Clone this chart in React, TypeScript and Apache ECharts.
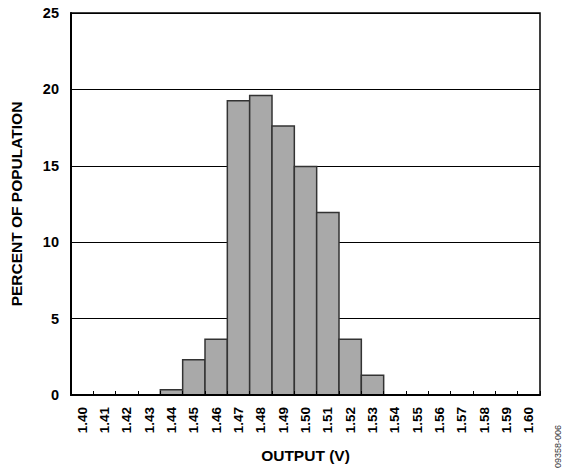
import React, { useEffect, useRef } from "react";
import * as echarts from "echarts";

const categories = [
  "1.40", "1.41", "1.42", "1.43", "1.44", "1.45", "1.46", "1.47", "1.48", "1.49", "1.50",
  "1.51", "1.52", "1.53", "1.54", "1.55", "1.56", "1.57", "1.58", "1.59", "1.60",
];
const percents = [
  0, 0, 0, 0, 0.35, 2.3, 3.65, 19.25, 19.6, 17.6, 14.95,
  11.95, 3.65, 1.3, 0, 0, 0, 0, 0, 0, 0,
];
const yTicks = { min: 0, max: 25, interval: 5 };
const xTitle = "OUTPUT (V)";
const yTitle = "PERCENT OF POPULATION";
const figureCode = "09358-006";

const FONT = "Arial, 'Liberation Sans', Helvetica, sans-serif";

export default function App() {
  const ref = useRef<HTMLDivElement>(null);
  useEffect(() => {
    if (!ref.current) return;
    const chart = echarts.init(ref.current, null, { renderer: "svg" });
    chart.setOption({
      animation: false,
      backgroundColor: "#ffffff",
      grid: {
        left: 63,
        right: 24,
        top: 13,
        bottom: 77,
        show: true,
        borderColor: "#000",
        borderWidth: 1.5,
      },
      xAxis: {
        type: "category",
        data: categories,
        name: xTitle,
        nameLocation: "middle",
        nameGap: 52,
        nameTextStyle: { fontFamily: FONT, fontWeight: "bold", fontSize: 15.5, color: "#000" },
        axisLine: { show: true, lineStyle: { color: "#000", width: 2 } },
        axisTick: { show: true, inside: true, length: 4, interval: 0, lineStyle: { color: "#000", width: 1 } },
        axisLabel: {
          interval: 0,
          rotate: 90,
          margin: 12,
          fontFamily: FONT,
          fontWeight: "bold",
          fontSize: 13.5,
          color: "#000",
        },
        splitLine: { show: false },
        z: 5,
      },
      yAxis: {
        type: "value",
        min: yTicks.min,
        max: yTicks.max,
        interval: yTicks.interval,
        name: yTitle,
        nameLocation: "middle",
        nameRotate: 90,
        nameGap: 47,
        nameTextStyle: { fontFamily: FONT, fontWeight: "bold", fontSize: 15.5, color: "#000" },
        axisLine: { show: true, lineStyle: { color: "#000", width: 2 } },
        axisTick: { show: false },
        axisLabel: {
          margin: 12,
          fontFamily: FONT,
          fontWeight: "bold",
          fontSize: 14.5,
          color: "#000",
        },
        splitLine: { show: true, lineStyle: { color: "#000", width: 1 } },
      },
      series: [
        {
          type: "custom",
          data: percents.map((v, i) => [i, v]),
          encode: { x: 0, y: 1 },
          renderItem: (params: any, api: any) => {
            const v = api.value(1);
            if (!v) return null;
            const idx = api.value(0);
            const top = api.coord([idx, v]);
            const base = api.coord([idx, 0]);
            const w = api.size([1, 0])[0];
            return {
              type: "rect",
              shape: { x: top[0] - w / 2, y: top[1], width: w, height: base[1] - top[1] },
              style: { fill: "#a9a9a9", stroke: "#333", lineWidth: 1.5 },
            };
          },
          emphasis: { disabled: true },
          z: 3,
        },
      ],
      graphic: [
        {
          type: "text",
          x: 553,
          y: 468,
          rotation: Math.PI / 2,
          style: {
            text: figureCode,
            fontFamily: FONT,
            fontSize: 9,
            fill: "#333",
            textAlign: "left",
            textVerticalAlign: "top",
          },
        },
      ],
    });
    return () => chart.dispose();
  }, []);
  return (
    <div
      ref={ref}
      style={{ position: "absolute", left: 0, top: 0, width: 564, height: 472 }}
    />
  );
}
